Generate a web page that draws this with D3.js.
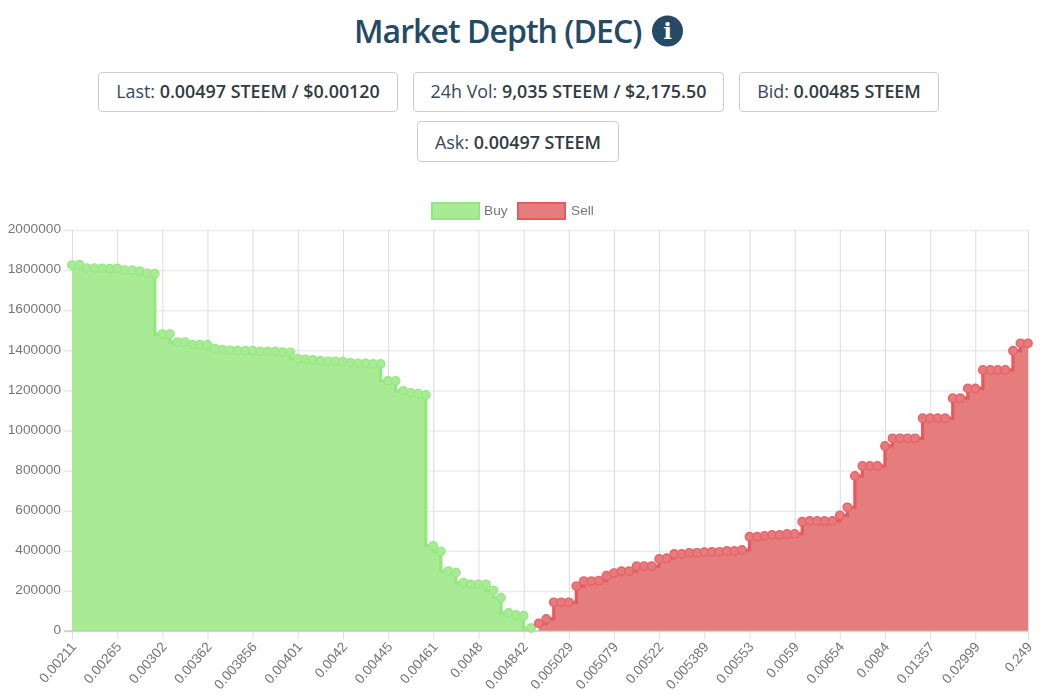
<!DOCTYPE html>
<html>
<head>
<meta charset="utf-8">
<title>Market Depth (DEC)</title>
<script src="https://cdn.jsdelivr.net/npm/d3@7"></script>
<style>
  html, body { margin: 0; padding: 0; background: #fff; overflow: hidden; }
  #page { position: relative; width: 1054px; height: 695px; font-family: "Open Sans", sans-serif; }
  h1 { position: absolute; left: 354px; top: 9px; margin: 0; white-space: nowrap; font-size: 32px; line-height: 44px; font-weight: 600; letter-spacing: -0.95px; color: #254a66; }
  .stat { position: absolute; box-sizing: border-box; text-align: center; border: 1px solid #ccc; border-radius: 4px; font-size: 17.9px; color: #34495e; white-space: nowrap; }
  .stat b { font-weight: 600; color: #2f3b45; }
  svg { position: absolute; left: 0; top: 0; }
  .plot { filter: blur(0.35px); }
  .axis text { font-family: "Liberation Sans", Arial, sans-serif; font-size: 13.7px; fill: #777; }
</style>
</head>
<body>
<div id="page">
  <h1>Market Depth (DEC)</h1>
  <div id="stats"></div>
  <svg id="chart" width="1054" height="695"></svg>
</div>
<script>
// values
const tickLabels = ['0.00211','0.00265','0.00302','0.00362','0.003856','0.00401','0.0042','0.00445','0.00461','0.0048','0.004842','0.005029','0.005079','0.00522','0.005389','0.00553','0.0059','0.00654','0.0084','0.01357','0.02999','0.249'];
const tickIndex = [0,6,12,18,24,30,36,42,48,54,60,66,72,78,84,90,96,102,108,114,120,127];
const yTicks = [0,200000,400000,600000,800000,1000000,1200000,1400000,1600000,1800000,2000000];

const buyDepth = [1825000,1827000,1810000,1810000,1809000,1807000,1809000,1800000,1800000,1795000,1784000,1782000,
  1481000,1481000,1441000,1441000,1428000,1428000,1428000,1408000,1403000,1400000,1398000,1398000,1398000,1395000,1395000,1394000,1391000,1390000,
  1358000,1355000,1352000,1348000,1345000,1345000,1343000,1338000,1335000,1335000,1332000,1332000,1248000,1248000,1198000,1188000,1184000,1177000,
  425000,397000,299000,291000,241000,233000,233000,233000,203000,166000,90000,80000,76000,15000];
const sellDepth = [38000,60000,143000,143000,143000,224000,249000,249000,251000,276000,289000,298000,298000,323000,323000,324000,359000,363000,
  384000,384000,390000,390000,393000,395000,395000,399000,399000,404000,470000,470000,474000,479000,479000,484000,484000,545000,549000,549000,549000,549000,
  577000,617000,773000,823000,823000,823000,923000,961000,961000,961000,961000,1061000,1061000,1061000,1061000,1161000,1161000,1210000,1210000,
  1302000,1302000,1302000,1302000,1398000,1435000,1435000];
const sellStart = buyDepth.length; // sell side sits after the buy side on the category axis

const stats = [
  {label: 'Last: ', value: '0.00497 STEEM / $0.00120', x: 98, y: 72, w: 300, h: 40},
  {label: '24h Vol: ', value: '9,035 STEEM / $2,175.50', x: 413, y: 72, w: 311, h: 40},
  {label: 'Bid: ', value: '0.00485 STEEM', x: 739, y: 72, w: 200, h: 40},
  {label: 'Ask: ', value: '0.00497 STEEM', x: 417, y: 121, w: 202, h: 41}
];

d3.select('#stats').selectAll('.stat').data(stats).enter().append('div')
  .classed('stat', true)
  .style('left', d => d.x + 'px')
  .style('top', d => d.y + 'px')
  .style('width', d => d.w + 'px')
  .style('height', d => d.h + 'px')
  .style('line-height', d => (d.h - 3 + (d.h - 40) * 2) + 'px')
  .html(d => d.label + '<b>' + d.value + '</b>');

const svg = d3.select('#chart');

// info icon next to the title
const icon = svg.append('g').attr('transform', 'translate(667.5,31)');
icon.append('circle').attr('r', 15.5).attr('fill', '#254a66');
icon.append('text').attr('text-anchor', 'middle').attr('y', 8)
  .style('font-family', '"DejaVu Serif", serif').style('font-weight', 'bold').style('font-size', '23px')
  .attr('fill', '#fff').text('i');

const plot = svg.append('g').classed('plot', true);

const xScale = d3.scaleLinear().domain([0, sellStart + sellDepth.length - 1]).range([72, 1028]);
const yScale = d3.scaleLinear().domain([0, 2000000]).range([631, 230]);

// grid + axes
const yAxis = plot.append('g').classed('axis', true).attr('transform', 'translate(72,0)')
  .call(d3.axisLeft(yScale).tickValues(yTicks).tickFormat(d => d).tickSize(8).tickPadding(3));
yAxis.select('.domain').remove();
yAxis.selectAll('line').attr('stroke', '#e6e6e6').attr('stroke-width', 1.5);
yAxis.selectAll('text').attr('dy', '0.2em');
yAxis.selectAll('.tick').append('line').attr('x1', 0).attr('x2', 956)
  .attr('stroke', '#ececec').attr('stroke-width', 1.5);

const xAxis = plot.append('g').classed('axis', true).attr('transform', 'translate(0,631)')
  .call(d3.axisBottom(xScale).tickValues(tickIndex).tickFormat((d, i) => tickLabels[i]).tickSize(8));
xAxis.select('.domain').remove();
xAxis.selectAll('line').attr('stroke', '#ddd');
xAxis.selectAll('.tick').append('line').attr('y1', 0).attr('y2', -401).attr('stroke', '#dcdcdc');
xAxis.selectAll('text')
  .attr('text-anchor', 'end')
  .attr('x', 0).attr('y', 0)
  .attr('dy', '0.35em')
  .attr('transform', 'translate(1,13) rotate(-49)');

const buyPts = buyDepth.map((v, i) => [i, v]);
const sellPts = sellDepth.map((v, i) => [sellStart + i, v]);

const series = [
  {name: 'Buy', pts: buyPts, curve: d3.curveStepBefore, fill: '#a8eb94', line: '#8fe97b', dotFill: '#a8eb94', dotLine: '#97e985'},
  {name: 'Sell', pts: sellPts, curve: d3.curveStepAfter, fill: '#e67d7d', line: '#e7595f', dotFill: '#e87a7c', dotLine: '#e5646a'}
];

series.forEach(s => {
  const area = d3.area().curve(s.curve).x(d => xScale(d[0])).y0(yScale(0)).y1(d => yScale(d[1]));
  const line = d3.line().curve(s.curve).x(d => xScale(d[0])).y(d => yScale(d[1]));
  plot.append('path').attr('d', area(s.pts)).attr('fill', s.fill);
  plot.append('path').attr('d', line(s.pts)).attr('fill', 'none').attr('stroke', s.line).attr('stroke-width', 3.2);
});

// baseline runs over the fill
plot.append('line').attr('x1', 64).attr('x2', 1028).attr('y1', yScale(0)).attr('y2', yScale(0))
  .attr('stroke', '#bdbdbd').attr('stroke-width', 1.2);

series.forEach(s => {
  plot.selectAll('.dot' + s.name).data(s.pts).enter().append('circle')
    .attr('cx', d => xScale(d[0]))
    .attr('cy', d => yScale(d[1]))
    .attr('r', 4.2)
    .attr('fill', s.dotFill)
    .attr('stroke', s.dotLine)
    .attr('stroke-width', 1.4);
});

// legend
const legend = plot.append('g').classed('axis', true);
const legendItems = [
  {name: 'Buy', x: 432, tx: 484, fill: '#a8eb94', line: '#8fe97b'},
  {name: 'Sell', x: 518, tx: 571, fill: '#e67d7d', line: '#e7595f'}
];
legendItems.forEach(d => {
  legend.append('rect').attr('x', d.x).attr('y', 203).attr('width', 47).attr('height', 16)
    .attr('fill', d.fill).attr('stroke', d.line).attr('stroke-width', 2);
  legend.append('text').attr('x', d.tx).attr('y', 215).text(d.name);
});
</script>
</body>
</html>
